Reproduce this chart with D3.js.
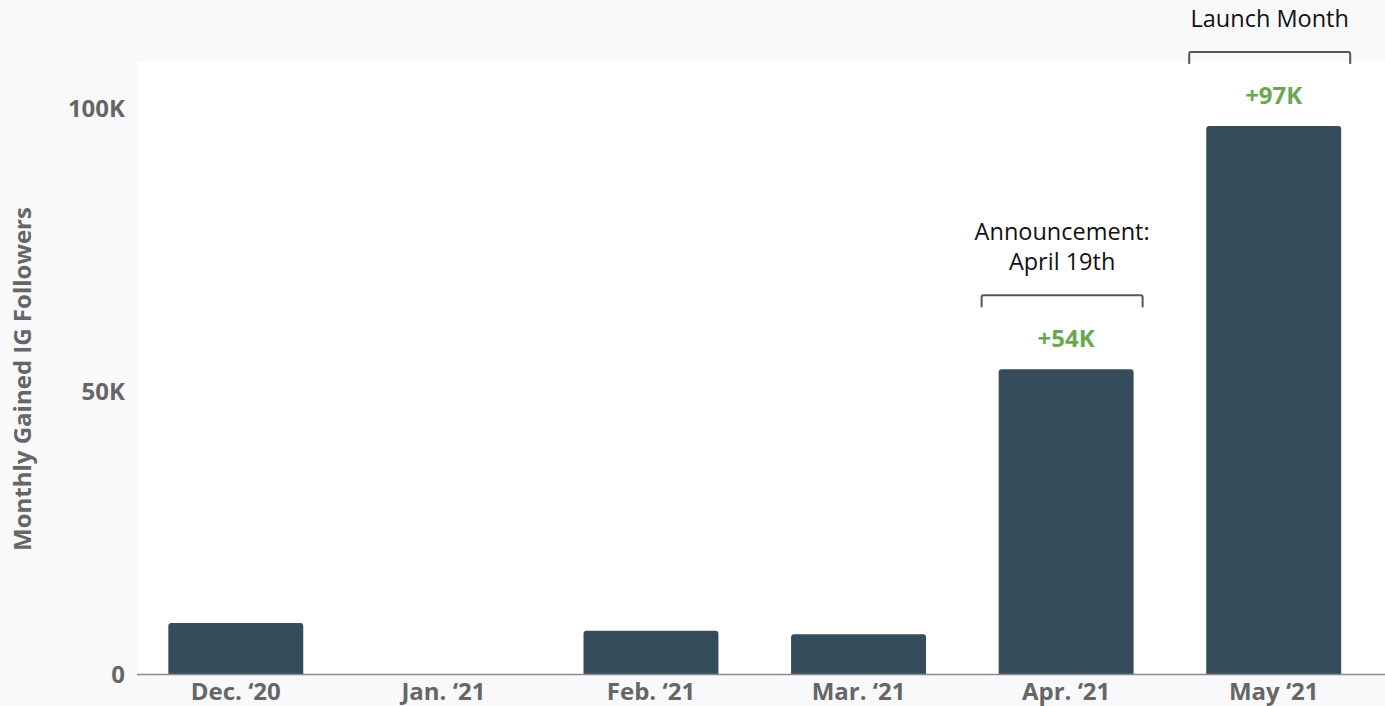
<!DOCTYPE html>
<html>
<head>
<meta charset="utf-8">
<script src="https://cdn.jsdelivr.net/npm/d3@7"></script>
<style>
  html, body { margin: 0; padding: 0; background: #f9f9fb; }
  svg { display: block; }
  text { font-family: "Open Sans", "Noto Sans", sans-serif; }
</style>
</head>
<body>
<svg id="chart" width="1385" height="706"></svg>
<script>
// Monthly gained Instagram followers
const months = ["Dec. \u201820", "Jan. \u201821", "Feb. \u201821", "Mar. \u201821", "Apr. \u201821", "May \u201821"];
const followers = [9200, 0, 7800, 7200, 54000, 97000];
const valueLabels = [null, null, null, null, "+54K", "+97K"];
const yTicks = [0, 50000, 100000];
const yTickLabels = ["0", "50K", "100K"];
const notes = [
  { month: "Apr. \u201821", lines: ["Announcement:", "April 19th"] },
  { month: "May \u201821", lines: ["Launch Month"] }
];

const W = 1385, H = 706;
const plot = { left: 137, right: 1385, top: 62, bottom: 675 };
const labelFont = 24;

const svg = d3.select("#chart");

// white plotting area
svg.append("rect")
  .attr("x", plot.left).attr("y", plot.top)
  .attr("width", plot.right - plot.left)
  .attr("height", plot.bottom - plot.top)
  .attr("fill", "#ffffff");

const x = d3.scaleBand()
  .domain(months)
  .range([132, 1377.5])
  .paddingInner(0.35)
  .paddingOuter(0.175);

const y = d3.scaleLinear()
  .domain([0, 100000])
  .range([plot.bottom, 109]);

// bars with slightly rounded top corners
const r = 3;
svg.append("g").selectAll("path")
  .data(months.map((m, i) => ({ m, v: followers[i] })).filter(d => d.v > 0))
  .join("path")
  .attr("fill", "#354d5b")
  .attr("d", d => {
    const x0 = x(d.m), x1 = x0 + x.bandwidth();
    const y0 = y(d.v), y1 = y(0);
    return `M${x0},${y1}V${y0 + r}Q${x0},${y0} ${x0 + r},${y0}H${x1 - r}Q${x1},${y0} ${x1},${y0 + r}V${y1}Z`;
  });

// baseline
svg.append("line")
  .attr("x1", plot.left).attr("x2", plot.right)
  .attr("y1", plot.bottom - 0.5).attr("y2", plot.bottom - 0.5)
  .attr("stroke", "#8a8a8a").attr("stroke-width", 1.5);

// x axis labels
const xAxis = d3.axisBottom(x).tickSize(0).tickPadding(7.5);
const gx = svg.append("g").attr("transform", `translate(0,${plot.bottom})`).call(xAxis);
gx.select(".domain").remove();
gx.selectAll("text")
  .attr("font-size", labelFont).attr("font-weight", 700)
  .attr("fill", "#666666")
  .attr("font-family", "Open Sans, sans-serif");

// y axis labels
const yAxis = d3.axisLeft(y).tickValues(yTicks)
  .tickFormat((d, i) => yTickLabels[i]).tickSize(0).tickPadding(12);
const gy = svg.append("g").attr("transform", `translate(${plot.left},0)`).call(yAxis);
gy.select(".domain").remove();
gy.selectAll("text")
  .attr("font-size", labelFont).attr("font-weight", 700)
  .attr("fill", "#666666")
  .attr("font-family", "Open Sans, sans-serif");

// y axis title
svg.append("text")
  .attr("transform", `translate(31,379) rotate(-90)`)
  .attr("text-anchor", "middle")
  .attr("font-size", labelFont).attr("font-weight", 700)
  .attr("fill", "#666666")
  .text("Monthly Gained IG Followers");

// value labels above bars
svg.append("g").selectAll("text")
  .data(months.map((m, i) => ({ m, v: followers[i], t: valueLabels[i] })).filter(d => d.t))
  .join("text")
  .attr("x", d => x(d.m) + x.bandwidth() / 2)
  .attr("y", d => y(d.v) - 22)
  .attr("text-anchor", "middle")
  .attr("font-size", labelFont).attr("font-weight", 700)
  .attr("fill", "#6aa84f")
  .text(d => d.t);

// bracket annotations
notes.forEach(n => {
  const i = months.indexOf(n.month);
  const top = y(followers[i]);
  const cx = x(n.month) + x.bandwidth() / 2 - 4;
  const half = 80.5;
  const by = top - 74, bh = 12;
  svg.append("path")
    .attr("d", `M${cx - half},${by + bh}V${by + 2}Q${cx - half},${by} ${cx - half + 2},${by}H${cx + half - 2}Q${cx + half},${by} ${cx + half},${by + 2}V${by + bh}`)
    .attr("fill", "none").attr("stroke", "#555555").attr("stroke-width", 2);
  const lineH = 30;
  n.lines.forEach((s, k) => {
    svg.append("text")
      .attr("x", cx)
      .attr("y", by - 25 - (n.lines.length - 1 - k) * lineH)
      .attr("text-anchor", "middle")
      .attr("font-size", 23.5).attr("fill", "#111111")
      .text(s);
  });
});
</script>
</body>
</html>
